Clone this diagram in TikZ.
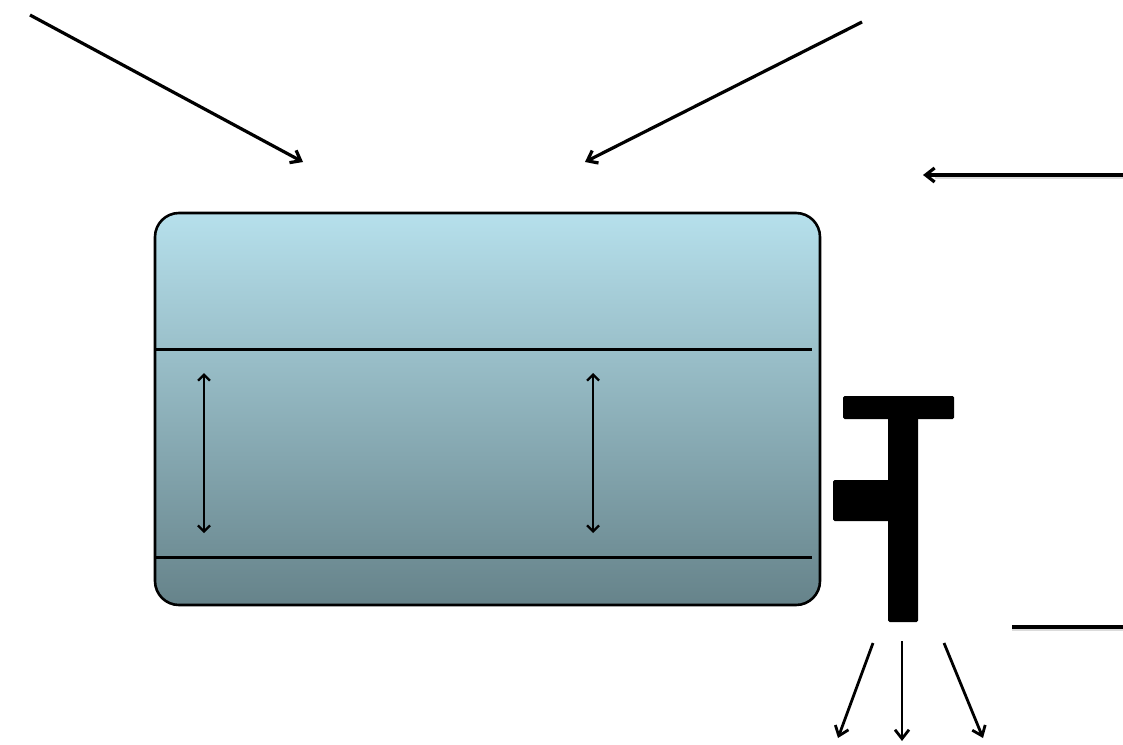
\documentclass[tikz,border=0pt]{standalone}
\usepackage{xcolor}
\usepackage{tikz}
\usetikzlibrary{arrows.meta,positioning,calc}

\definecolor{tanktop}{RGB}{182,224,236}
\definecolor{tankbot}{RGB}{102,131,138}

\begin{document}
\begin{tikzpicture}[
            x=1pt,y=-1pt,
            tank/.style={draw,line width=2.6pt,rounded corners=24pt,minimum width=665pt,minimum height=392pt,top color=tanktop,bottom color=tankbot},
            level/.style={line width=3pt},
            flow/.style={-{Straight Barb[length=9pt,width=14pt]},line width=3.2pt},
            move/.style={{Straight Barb[length=6pt,width=12pt]}-{Straight Barb[length=6pt,width=12pt]},line width=2.3pt},
            part/.style={fill=black,rounded corners=1.5pt}
        ]
            \useasboundingbox (0,0) rectangle (1123,744);

            % tank with two level lines
            \node[tank] (tank) at (487.5,409) {};
            \coordinate (hiL) at (156,349);  \coordinate (hiR) at (812,349);
            \coordinate (loL) at (156,557);  \coordinate (loR) at (812,557);
            \draw[level] (hiL) -- (hiR);
            \draw[level] (loL) -- (loR);

            % level movement
            \coordinate (m1t) at (204,373); \coordinate (m1b) at (204,533);
            \coordinate (m2t) at (593,373); \coordinate (m2b) at (593,533);
            \draw[move] (m1t) -- (m1b);
            \draw[move] (m2t) -- (m2b);

            % incoming flows
            \coordinate (inA) at (30,15);    \coordinate (inAe) at (303,162);
            \coordinate (inB) at (862,22);   \coordinate (inBe) at (585,162);
            \coordinate (inC) at (1123,175); \coordinate (inCe) at (923,175);
            \draw[flow] (inA) -- (inAe);
            \draw[flow] (inB) -- (inBe);
            \draw[line width=3pt,black!14] ($(inC)+(0,2.5)$) -- ($(inCe)+(12,2.5)$);
            \draw[flow] (inC) -- (inCe);

            % valve
            \fill[part] (843,396) rectangle (954,419);
            \fill[part] (888,396) rectangle (918,622);
            \fill[part] (833,480) rectangle (890,521);

            % outlet level mark
            \coordinate (outL) at (1012,627); \coordinate (outR) at (1123,627);
            \draw[line width=3pt,black!14] ($(outL)+(0,2.5)$) -- ($(outR)+(0,2.5)$);
            \draw[line width=3.2pt] (outL) -- (outR);

            % outgoing spray
            \coordinate (sp1) at (873,643); \coordinate (sp1e) at (838,738);
            \coordinate (sp2) at (902,641); \coordinate (sp2e) at (902,741);
            \coordinate (sp3) at (944,643); \coordinate (sp3e) at (983,738);
            \draw[flow,line width=2.8pt] (sp1) -- (sp1e);
            \draw[flow,line width=2.8pt] (sp2) -- (sp2e);
            \draw[flow,line width=2.8pt] (sp3) -- (sp3e);
        \end{tikzpicture}
\end{document}
